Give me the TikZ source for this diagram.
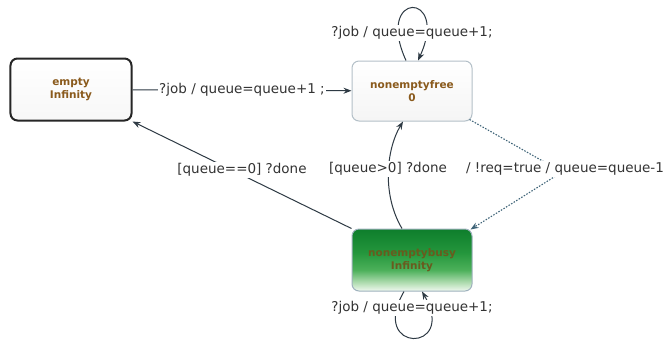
\documentclass[tikz,border=0pt]{standalone}
\usepackage{fontspec}
\setmainfont{DejaVu Sans}
\usetikzlibrary{arrows.meta}
\definecolor{edgecol}{HTML}{2E3A44}
\definecolor{dotcol}{HTML}{3F6478}
\definecolor{txtcol}{HTML}{8A5A1C}
\definecolor{busytxt}{HTML}{6A5A1E}
\definecolor{boxborder}{HTML}{B4C0C8}
\definecolor{busyborder}{HTML}{9FB2BE}
\definecolor{gA}{HTML}{F0F8F0}
\definecolor{gB}{HTML}{B8E0B8}
\definecolor{gC}{HTML}{4CB05A}
\definecolor{gD}{HTML}{24963C}
\definecolor{gE}{HTML}{0E7E2C}
\definecolor{lbltxt}{HTML}{333333}
\pgfdeclareverticalshading{busyshade}{100bp}{color(0bp)=(gA); color(25bp)=(gA); color(31bp)=(gB); color(42bp)=(gC); color(56bp)=(gD); color(75bp)=(gE); color(100bp)=(gE)}
\tikzset{
  statebox/.style={rectangle, rounded corners=7bp, align=center,
    font=\fontsize{10.5bp}{13.5bp}\selectfont\bfseries, text=txtcol, inner sep=0pt},
  emptybox/.style={statebox, draw=black!85, line width=2bp, top color=white, bottom color=black!3},
  freebox/.style={statebox, draw=boxborder, line width=1bp, top color=white, bottom color=black!4},
  busybox/.style={statebox, text=busytxt, draw=busyborder, line width=1bp, shading=busyshade},
  edge/.style={draw=edgecol, line width=1bp, -{Stealth[length=8bp,width=6bp]}},
  dotedge/.style={draw=dotcol, line width=1.1bp, dash pattern=on 1.5bp off 1.5bp, -{Stealth[length=8bp,width=6bp]}},
  lbl/.style={fill=white, inner sep=1.5bp, text=lbltxt, font=\fontsize{13.5bp}{16bp}\selectfont}
}
\begin{document}
\begin{tikzpicture}[x=1bp,y=-1bp]
\useasboundingbox (0,0) rectangle (666,343);
\fill[white] (0,0) rectangle (666,343);

\node[emptybox, minimum width=121bp, minimum height=62bp] (empty) at (71,89.5) {empty\\Infinity};
\node[freebox, minimum width=120bp, minimum height=60bp] (free) at (412,91) {nonemptyfree\\0};
\node[busybox, minimum width=120bp, minimum height=62bp] (busy) at (412,260) {nonemptybusy\\Infinity};

% empty -> nonemptyfree
\draw[edge] (empty) -- node[lbl] (l1) {?job / queue=queue+1 ;} (free);

% self loop on nonemptyfree
\draw[edge] ([xshift=-6bp]free.north) .. controls +(-32,-70) and +(32,-70) .. ([xshift=6bp]free.north);
\node[lbl] (l2) at (412,33) {?job / queue=queue+1;};

% self loop on nonemptybusy
\draw[edge] ([xshift=-8bp]busy.south) .. controls +(-36,62) and +(36,62) .. ([xshift=10bp]busy.south);
\node[lbl] (l3) at (412,308) {?job / queue=queue+1;};

% nonemptybusy -> empty
\draw[edge] (busy.north west) -- node[lbl, yshift=5bp] (l4) {[queue==0] ?done} (empty.south east);

% nonemptybusy -> nonemptyfree
\draw[edge] ([xshift=-10bp]busy.north) .. controls (382,195) and (386,150) .. ([xshift=-9bp]free.south);
\node[lbl] (l5) at (388,169) {[queue>0] ?done};

% nonemptyfree -> nonemptybusy (dotted)
\coordinate (bend) at (562,172);
\draw[dotedge] ([xshift=-3bp,yshift=2bp]free.south east) -- (bend) -- ([xshift=-2bp,yshift=-1bp]busy.north east);
\node[lbl] (l6) at (565,169) {/ !req=true / queue=queue-1};
\end{tikzpicture}
\end{document}
